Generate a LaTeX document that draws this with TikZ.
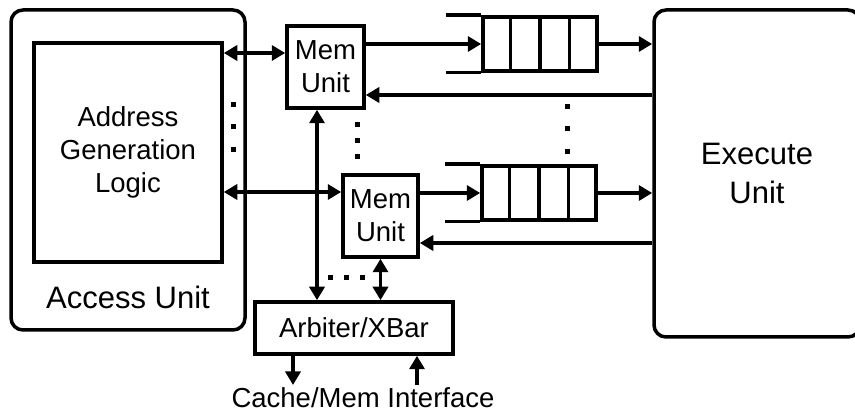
\documentclass[tikz,border=0pt]{standalone}
\usepackage{fontspec}
\setmainfont{Liberation Sans}
\usetikzlibrary{arrows.meta,calc}

\begin{document}
\begin{tikzpicture}[x=1pt, y=-1pt, line width=3.5pt,
        >={Triangle[length=13.5pt,width=15pt]},
        txt/.style={inner sep=0pt, align=center, font=\fontsize{27.5}{33}\selectfont},
        bigtxt/.style={txt, font=\fontsize{31}{39}\selectfont},
        box/.style={txt, draw},
        unit/.style={bigtxt, draw, rounded corners=12pt},
        fifo/.style={draw, inner sep=0pt, minimum width=114pt, minimum height=54pt}]
        \useasboundingbox (0,0) rectangle (855,414);

        \node[unit, minimum width=234pt, minimum height=320pt] (access) at (128,170) {};
        \node[box, minimum width=188pt, minimum height=219pt] (agl) at (128,152.5) {Address\\Generation\\Logic};
        \node[bigtxt] (accesslbl) at (128,297) {Access Unit};
        \node[unit, minimum width=206pt, minimum height=327pt] (exec) at (757,173.5) {Execute\\Unit};

        \node[box, minimum width=77pt, minimum height=82pt] (mem1) at (325.5,67) {Mem\\Unit};
        \node[box, minimum width=75pt, minimum height=82pt] (mem2) at (380.5,216) {Mem\\Unit};
        \node[box, minimum width=198pt, minimum height=52pt] (arb) at (354,328) {Arbiter/XBar};
        \node[txt] (cache) at (363,398) {Cache/Mem Interface};

        \node[fifo] (q1) at (540,44) {};
        \node[fifo] (q2) at (539,193) {};
        \foreach \q in {q1,q2} {
            \draw ([xshift=-35pt]\q.north west) -- (\q.north west);
            \draw ([xshift=-35pt]\q.south west) -- (\q.south west);
            \foreach \i in {1,2,3}
                \draw ($(\q.north west)!\i/4!(\q.north east)$) -- ($(\q.south west)!\i/4!(\q.south east)$);
        }

        \coordinate (m1in) at ([yshift=14pt]mem1.west);
        \coordinate (m2in) at ([yshift=24pt]mem2.west);
        \coordinate (m1back) at ([yshift=-28pt]mem1.east);
        \coordinate (m2back) at ([yshift=-27pt]mem2.east);
        \coordinate (m1down) at ([xshift=-8.5pt]mem1.south);
        \coordinate (cout) at (293,385);
        \coordinate (cin) at (417,385);

        \draw[<->] (agl.east |- m1in) -- (m1in);
        \draw[<->] (agl.east |- m2in) -- (m2in);
        \draw[->] (mem1.east |- q1) -- (q1.west);
        \draw[->] (mem2.east |- q2) -- (q2.west);
        \draw[->] (q1.east) -- (q1.east -| exec.west);
        \draw[->] (q2.east) -- (q2.east -| exec.west);
        \draw[->] (exec.west |- m1back) -- (m1back);
        \draw[->] (exec.west |- m2back) -- (m2back);
        \draw[<->] (arb.north -| m1down) -- (m1down);
        \draw[<->] (mem2.south) -- (mem2.south |- arb.north);
        \draw[->] (arb.south -| cout) -- (cout);
        \draw[->] (cin) -- (arb.south -| cin);

        % dots
        \foreach \y in {105,127,150} \fill (230.5,\y-2.5) rectangle ++(5,5);
        \foreach \y in {125,141,157} \fill (354.5,\y-2.5) rectangle ++(5,5);
        \foreach \y in {107,129,152} \fill (564.5,\y-2.5) rectangle ++(5,5);
        \foreach \x in {330,346,362} \fill (\x-2.5,275.5) rectangle ++(5,5);
    \end{tikzpicture}
\end{document}
